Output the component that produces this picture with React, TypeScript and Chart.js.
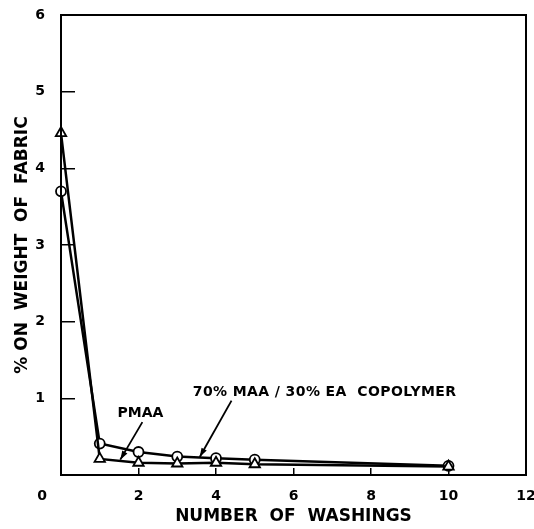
import React, { useEffect, useRef } from 'react';
import { Chart, registerables } from 'chart.js';

Chart.register(...registerables);

const washings = [0, 1, 2, 3, 4, 5, 10];
const copolymerValues = [3.7, 0.41, 0.3, 0.24, 0.22, 0.2, 0.12];
const pmaaValues = [4.46, 0.21, 0.16, 0.15, 0.16, 0.14, 0.11];

const xMin = 0;
const xMax = 12;
const xStep = 2;
const yMin = 0;
const yMax = 6;
const yStep = 1;

const xTitle = 'NUMBER  OF  WASHINGS';
const yTitle = '% ON  WEIGHT  OF  FABRIC';
const originLabel = '0';

const noteTexts = ['PMAA', '70% MAA / 30% EA  COPOLYMER'];
const noteX = [2.05, 3.4];
const noteY = [0.8, 1.08];
const noteAlign = ['center', 'left'];
const arrowFromX = [2.1, 4.4];
const arrowFromY = [0.69, 0.97];
const arrowToX = [1.53, 3.58];
const arrowToY = [0.2, 0.235];

const FONT = '"DejaVu Sans", sans-serif';

const decorPlugin = {
  id: 'decor',
  afterDatasetsDraw(chart: any) {
    const { ctx, chartArea, scales } = chart;
    const x = scales.x;
    const y = scales.y;
    ctx.save();
    ctx.strokeStyle = '#000';
    ctx.lineWidth = 2;
    ctx.strokeRect(chartArea.left, chartArea.top, chartArea.right - chartArea.left, chartArea.bottom - chartArea.top);

    ctx.fillStyle = '#000';
    ctx.font = `bold 14px ${FONT}`;
    ctx.textAlign = 'center';
    ctx.textBaseline = 'middle';
    ctx.fillText(originLabel, x.getPixelForValue(0) - 19, y.getPixelForValue(0) + 21);

    ctx.font = `bold 14px ${FONT}`;
    for (let i = 0; i < noteTexts.length; i++) {
      ctx.textAlign = noteAlign[i] as CanvasTextAlign;
      (ctx as any).letterSpacing = i === 1 ? '0.4px' : '0px';
      ctx.fillText(noteTexts[i], x.getPixelForValue(noteX[i]), y.getPixelForValue(noteY[i]));
      (ctx as any).letterSpacing = '0px';
      const x1 = x.getPixelForValue(arrowFromX[i]);
      const y1 = y.getPixelForValue(arrowFromY[i]);
      const x2 = x.getPixelForValue(arrowToX[i]);
      const y2 = y.getPixelForValue(arrowToY[i]);
      ctx.lineWidth = 1.8;
      ctx.beginPath();
      ctx.moveTo(x1, y1);
      ctx.lineTo(x2, y2);
      ctx.stroke();
      const ang = Math.atan2(y2 - y1, x2 - x1);
      const len = 9;
      const w = 3;
      ctx.beginPath();
      ctx.moveTo(x2, y2);
      ctx.lineTo(x2 - len * Math.cos(ang) + w * Math.sin(ang), y2 - len * Math.sin(ang) - w * Math.cos(ang));
      ctx.lineTo(x2 - len * Math.cos(ang) - w * Math.sin(ang), y2 - len * Math.sin(ang) + w * Math.cos(ang));
      ctx.closePath();
      ctx.fill();
    }
    ctx.restore();
  },
};

const zeroPad = (s: any) => {
  s.paddingTop = 0;
  s.paddingBottom = 0;
  s.paddingLeft = 0;
  s.paddingRight = 0;
};

export default function App() {
  const ref = useRef<HTMLCanvasElement | null>(null);
  useEffect(() => {
    if (!ref.current) return;
    const chart = new Chart(ref.current, {
      type: 'line',
      data: {
        datasets: [
          {
            label: 'PMAA',
            data: washings.map((w, i) => ({ x: w, y: pmaaValues[i] })),
            borderColor: '#000',
            backgroundColor: '#fff',
            borderWidth: 2.5,
            pointStyle: 'triangle',
            pointRadius: 6,
            pointBorderWidth: 1.8,
            pointBorderColor: '#000',
            pointBackgroundColor: '#fff',
            tension: 0,
            clip: false,
          },
          {
            label: '70% MAA / 30% EA copolymer',
            data: washings.map((w, i) => ({ x: w, y: copolymerValues[i] })),
            borderColor: '#000',
            backgroundColor: '#fff',
            borderWidth: 2.5,
            pointStyle: 'circle',
            pointRadius: 5,
            pointBorderWidth: 1.8,
            pointBorderColor: '#000',
            pointBackgroundColor: '#fff',
            tension: 0,
            clip: false,
          },
        ],
      },
      options: {
        animation: false,
        responsive: true,
        maintainAspectRatio: false,
        layout: { padding: { top: 15, right: 8, left: 0, bottom: 0 } },
        plugins: {
          legend: { display: false },
          tooltip: { enabled: false },
        },
        scales: {
          x: {
            type: 'linear',
            min: xMin,
            max: xMax,
            afterFit: (s: any) => {
              s.height = 54;
              zeroPad(s);
            },
            ticks: {
              stepSize: xStep,
              padding: 20,
              color: '#000',
              font: { family: FONT, size: 14, weight: 'bold' },
              callback: (v: any) => (v === 0 ? '' : String(v)),
              maxRotation: 0,
            },
            grid: {
              drawOnChartArea: false,
              drawTicks: true,
              tickLength: -7,
              color: '#000',
              lineWidth: 1.5,
            },
            border: { display: true, color: '#000', width: 2 },
            title: {
              display: true,
              text: xTitle,
              color: '#000',
              font: { family: FONT, size: 17, weight: 'bold' },
              padding: { top: 0, bottom: 2 },
            },
          },
          y: {
            type: 'linear',
            min: yMin,
            max: yMax,
            afterFit: (s: any) => {
              s.width = 61;
              zeroPad(s);
            },
            ticks: {
              stepSize: yStep,
              padding: 30,
              color: '#000',
              font: { family: FONT, size: 14, weight: 'bold' },
              callback: (v: any) => (v === 0 ? '' : String(v)),
            },
            grid: {
              drawOnChartArea: false,
              drawTicks: true,
              tickLength: -14,
              color: '#000',
              lineWidth: 1.5,
            },
            border: { display: true, color: '#000', width: 2 },
            title: {
              display: true,
              text: yTitle,
              color: '#000',
              font: { family: FONT, size: 17, weight: 'bold' },
              padding: { top: 12, bottom: 0 },
            },
          },
        },
      },
      plugins: [decorPlugin],
    });
    return () => chart.destroy();
  }, []);
  return (
    <div style={{ position: 'absolute', left: 0, top: 0, width: 534, height: 529, background: '#fff' }}>
      <canvas ref={ref} />
    </div>
  );
}
